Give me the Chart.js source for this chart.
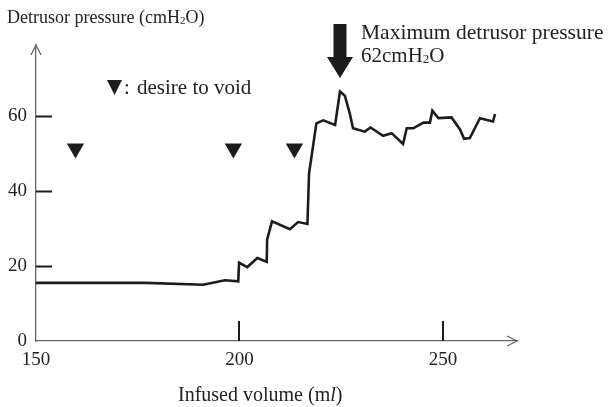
<!DOCTYPE html>
<html>
<head>
<meta charset="utf-8">
<script src="https://cdn.jsdelivr.net/npm/chart.js@4"></script>
<style>
  html, body { margin: 0; padding: 0; background: #fff; }
  canvas { display: block; }
</style>
</head>
<body>
<canvas id="chart" width="608" height="407"></canvas>
<script>
// Infused volume (ml) and detrusor pressure (cmH2O)
const volume = [150, 177, 191.1, 196.4, 199.7, 199.9, 201.9, 204.4, 206.7, 206.8,
    208.0, 212.4, 214.4, 216.7, 217.1, 218.9, 220.6, 223.5, 224.7, 225.9,
    227.1, 227.9, 230.8, 232.2, 235.3, 237.4, 240.2, 241.1, 242.7, 245.2,
    246.8, 247.4, 248.9, 252.1, 254.2, 255.2, 256.6, 259.1, 262.3, 262.8];
const pressure = [15.5, 15.5, 15.0, 16.2, 15.9, 20.9, 19.7, 22.1, 21.1, 27.1,
    31.9, 29.8, 31.7, 31.2, 44.7, 58.0, 58.8, 57.6, 66.5, 65.4,
    60.7, 56.7, 55.8, 56.9, 54.7, 55.4, 52.5, 56.7, 56.7, 58.2,
    58.2, 61.4, 59.4, 59.6, 56.4, 53.9, 54.1, 59.4, 58.5, 60.5];

// "desire to void" markers
const voidVolumes = [159.7, 198.5, 213.5];
const voidLevel = [51.3, 51.3, 51.3];

const xTicks = [150, 200, 250];
const yTicks = [0, 20, 40, 60];
const xRange = [150, 268.2];
const yRange = [0, 78.9];

const SERIF = '"Liberation Serif", "DejaVu Serif", serif';
const INK = '#1c1c1c';

// draws text made of pieces, e.g. the small "2" in cmH2O
function drawRich(ctx, parts, x, y) {
    for (const p of parts) {
        ctx.font = p.font;
        ctx.fillText(p.text, x, y + (p.dy || 0));
        x += ctx.measureText(p.text).width;
    }
}

function h2o(prefix, size, suffix) {
    return [
        { text: prefix + 'cmH', font: `${size}px ${SERIF}` },
        { text: '2', font: `${Math.round(size * 0.6)}px ${SERIF}`, dy: 1 },
        { text: 'O' + suffix, font: `${size}px ${SERIF}` },
    ];
}

const decorPlugin = {
    id: 'decor',
    afterDatasetsDraw(chart) {
        const { ctx, chartArea: a, scales: { x, y } } = chart;
        ctx.save();

        // axis arrow heads
        ctx.strokeStyle = '#666';
        ctx.lineWidth = 1.3;
        ctx.beginPath();
        ctx.moveTo(a.left - 5, a.top + 10);
        ctx.lineTo(a.left, a.top);
        ctx.lineTo(a.left + 5, a.top + 10);
        ctx.moveTo(a.right - 10, a.bottom - 5);
        ctx.lineTo(a.right, a.bottom);
        ctx.lineTo(a.right - 10, a.bottom + 5);
        ctx.stroke();

        // inner tick marks
        ctx.strokeStyle = INK;
        ctx.lineWidth = 2;
        ctx.beginPath();
        for (const v of yTicks.filter(v => v > 0)) {
            const py = Math.round(y.getPixelForValue(v)) + 0.5;
            ctx.moveTo(a.left, py);
            ctx.lineTo(a.left + 16, py);
        }
        for (const v of xTicks.filter(v => v > xRange[0])) {
            const px = Math.round(x.getPixelForValue(v));
            ctx.moveTo(px, a.bottom);
            ctx.lineTo(px, a.bottom - 20);
        }
        ctx.stroke();

        // big arrow over the peak
        const peakIdx = pressure.indexOf(Math.max(...pressure));
        const cx = x.getPixelForValue(volume[peakIdx]);
        ctx.fillStyle = INK;
        ctx.beginPath();
        ctx.moveTo(cx - 6.5, 24);
        ctx.lineTo(cx + 6.5, 24);
        ctx.lineTo(cx + 6.5, 57);
        ctx.lineTo(cx + 13, 57);
        ctx.lineTo(cx, 78);
        ctx.lineTo(cx - 13, 57);
        ctx.lineTo(cx - 6.5, 57);
        ctx.closePath();
        ctx.fill();

        // legend triangle
        ctx.beginPath();
        ctx.moveTo(107, 80);
        ctx.lineTo(122, 80);
        ctx.lineTo(114.5, 95);
        ctx.closePath();
        ctx.fill();

        // texts
        ctx.fillStyle = '#222';
        ctx.textBaseline = 'alphabetic';
        ctx.textAlign = 'left';
        ctx.font = `21px ${SERIF}`;
        ctx.fillText(':', 124, 94);
        ctx.fillText('desire to void', 137, 94);

        ctx.font = `21.5px ${SERIF}`;
        ctx.fillText('Maximum detrusor pressure', 361, 39);
        drawRich(ctx, h2o('62', 21, ''), 361, 62);

        drawRich(ctx, h2o('Detrusor pressure (', 18, ')'), 7, 23);

        drawRich(ctx, [
            { text: 'Infused volume (m', font: `20px ${SERIF}` },
            { text: 'l', font: `italic 20px ${SERIF}` },
            { text: ')', font: `20px ${SERIF}` },
        ], 178, 401);

        ctx.restore();
    }
};

new Chart(document.getElementById('chart'), {
    type: 'line',
    data: {
        datasets: [
            {
                data: volume.map((v, i) => ({ x: v, y: pressure[i] })),
                borderColor: INK,
                borderWidth: 2.6,
                pointRadius: 0,
                tension: 0,
            },
            {
                data: voidVolumes.map((v, i) => ({ x: v, y: voidLevel[i] })),
                showLine: false,
                pointStyle: 'triangle',
                rotation: 180,
                pointRadius: 10,
                borderWidth: 0,
                backgroundColor: INK,
                borderColor: INK,
            }
        ]
    },
    options: {
        responsive: false,
        animation: false,
        layout: { padding: { left: 6, right: 91, top: 45, bottom: 36 } },
        plugins: { legend: { display: false }, tooltip: { enabled: false } },
        scales: {
            x: {
                type: 'linear',
                min: xRange[0], max: xRange[1],
                afterBuildTicks: s => { s.ticks = xTicks.map(v => ({ value: v })); },
                afterFit: s => { s.height = 30; },
                grid: { display: false, drawTicks: false },
                border: { display: true, color: '#666', width: 1.3 },
                ticks: { padding: 8, color: '#222', font: { family: SERIF, size: 19 }, maxRotation: 0 }
            },
            y: {
                min: yRange[0], max: yRange[1],
                afterBuildTicks: s => { s.ticks = yTicks.map(v => ({ value: v })); },
                afterFit: s => { s.width = 30; },
                grid: { display: false, drawTicks: false },
                border: { display: true, color: '#666', width: 1.3 },
                ticks: { padding: 9, color: '#222', font: { family: SERIF, size: 19 } }
            }
        }
    },
    plugins: [decorPlugin]
});
</script>
</body>
</html>
